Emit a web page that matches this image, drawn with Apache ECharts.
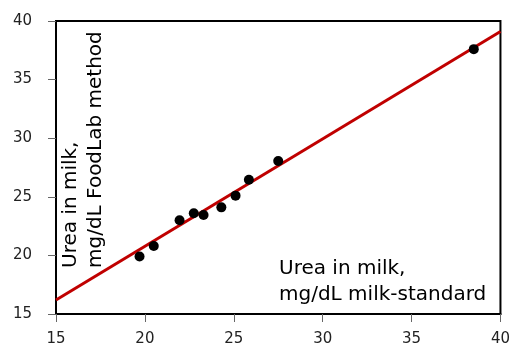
<!DOCTYPE html>
<html><head><meta charset="utf-8">
<script src="https://cdn.jsdelivr.net/npm/echarts@6/dist/echarts.min.js"></script>
<style>html,body{margin:0;padding:0;background:#fff}#c{width:513px;height:347px}</style>
</head><body><div id="c"></div>
<script>
var xTicks = [15, 20, 25, 30, 35, 40];
var yTicks = [15, 20, 25, 30, 35, 40];
var standardValues = [19.7, 20.5, 21.95, 22.75, 23.3, 24.3, 25.1, 25.85, 27.5, 38.5];
var foodlabValues = [19.9, 20.8, 23.0, 23.6, 23.45, 24.1, 25.1, 26.45, 28.05, 37.6];
var fitLineX = [15, 40];
var fitLineY = [16.2, 39.1];
var xTitle = "Urea in milk,\nmg/dL milk-standard";
var yTitle = "Urea in milk,\nmg/dL FoodLab method";

var pts = standardValues.map(function (x, i) { return [x, foodlabValues[i]]; });
var fit = fitLineX.map(function (x, i) { return [x, fitLineY[i]]; });

var chart = echarts.init(document.getElementById('c'), null, {renderer: 'canvas'});
var axisCommon = {
  min: 15, max: 40, interval: 5,
  axisLine: {show: true, onZero: false, lineStyle: {color: '#000', width: 2}},
  axisTick: {show: true, length: 8, lineStyle: {color: '#666', width: 1}},
  splitLine: {show: false},
  axisLabel: {color: '#222', fontSize: 15, fontFamily: 'DejaVu Sans'}
};
chart.setOption({
  animation: false,
  backgroundColor: '#fff',
  grid: {left: 56, top: 21, right: 11, bottom: 31, show: true, borderColor: '#000', borderWidth: 2, backgroundColor: 'transparent'},
  xAxis: Object.assign({}, axisCommon, {type: 'value', axisLabel: Object.assign({}, axisCommon.axisLabel, {margin: 18})}),
  yAxis: Object.assign({}, axisCommon, {type: 'value', axisLabel: Object.assign({}, axisCommon.axisLabel, {margin: 24})}),
  series: [
    {type: 'line', data: fit, symbol: 'none', lineStyle: {color: '#c00000', width: 3}, z: 2},
    {type: 'scatter', data: pts, symbol: 'circle', symbolSize: 10, itemStyle: {color: '#000', opacity: 1}, z: 3}
  ],
  graphic: [
    {type: 'text', x: 58, y: 268, rotation: Math.PI / 2,
     style: {text: yTitle, font: '20px "DejaVu Sans"', fill: '#000', textAlign: 'left', textVerticalAlign: 'top', lineHeight: 25}},
    {type: 'text', x: 279, y: 256,
     style: {text: xTitle, font: '20px "DejaVu Sans"', fill: '#000', textAlign: 'left', textVerticalAlign: 'top', lineHeight: 26}}
  ]
});
</script></body></html>
